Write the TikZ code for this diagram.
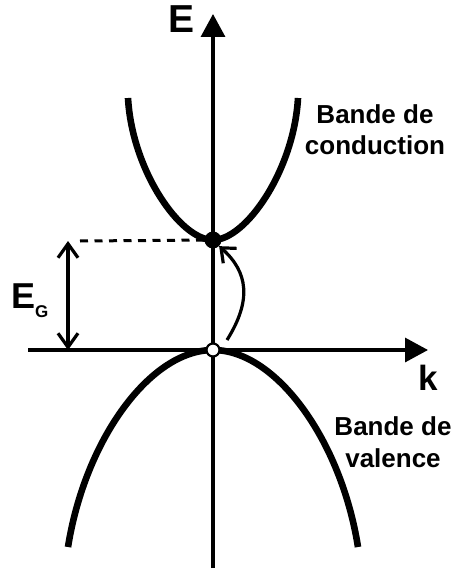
\documentclass[tikz,border=0pt]{standalone}
\usepackage{fontspec}
\setmainfont{Liberation Sans}
\usetikzlibrary{arrows.meta}
\tikzset{
  axis/.style={line width=3.3pt,-{Triangle[length=23pt,width=24pt]}},
  band/.style={line width=6.6pt},
  barb/.style={line width=3.2pt},
  lbl/.style={font=\bfseries\fontsize{26pt}{32pt}\selectfont,align=center,inner sep=0pt},
}
\begin{document}
\begin{tikzpicture}[x=1pt,y=-1pt]
\useasboundingbox (0,0) rectangle (460,572);
% axes
\coordinate (ybot) at (213,568);
\coordinate (ytop) at (213,14);
\coordinate (xleft) at (28,350);
\coordinate (xright) at (428,350);
\draw[axis] (ybot) -- (ytop);
\draw[axis] (xleft) -- (xright);
% bands
\draw[band] (128,98) .. controls (132,170) and (180,240) .. (213,240)
  .. controls (246,240) and (294,170) .. (298,98);
\draw[band] (68,547) .. controls (85,440) and (150,350) .. (213,350)
  .. controls (276,350) and (341,440) .. (358,547);
% gap
\coordinate (gtop) at (68,241);
\coordinate (gbot) at (68,350);
\coordinate (dstart) at (80,241);
\node[circle,fill=black,minimum size=17pt,inner sep=0pt] (cb) at (213,240) {};
\node[circle,fill=white,draw=black,line width=2.2pt,minimum size=13pt,inner sep=0pt] (vb) at (213,350) {};
\draw[line width=3pt,dash pattern=on 8pt off 6.5pt] (dstart) -- (cb);
\draw[barb,{Straight Barb[length=14pt,width=20pt]}-{Straight Barb[length=14pt,width=20pt]}] (gtop) -- (gbot);
\coordinate (ustart) at (227,340);
\draw[barb,-{Straight Barb[length=12pt,width=20pt]}] (ustart) .. controls (252,300) and (248,272) .. (cb.south east);
% labels
\node[font=\bfseries\fontsize{39pt}{39pt}\selectfont,anchor=base west,inner sep=0pt] (E) at (168,33) {E};
\node[font=\bfseries\fontsize{35pt}{35pt}\selectfont,anchor=base west,inner sep=0pt] (k) at (418,390) {k};
\node[font=\bfseries\fontsize{36pt}{36pt}\selectfont,anchor=base west,inner sep=0pt] (EG) at (11,308) {E\raisebox{-9pt}{\fontsize{17pt}{17pt}\selectfont G}};
\node[lbl,anchor=base] (cond) at (375,155) {Bande de\\conduction};
\node[lbl,anchor=base] (val) at (393,467) {Bande de\\valence};
\end{tikzpicture}
\end{document}
